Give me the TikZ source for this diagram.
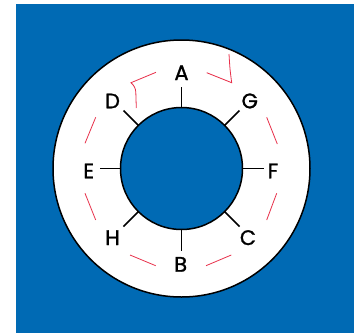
\documentclass[tikz,border=0pt]{standalone}
\usepackage{fontspec}
\setmainfont{Poppins}[FakeBold=1.2]
\definecolor{bgblue}{RGB}{0,106,180}
\definecolor{dashred}{RGB}{232,48,74}
\begin{document}
\begin{tikzpicture}[x=1pt,y=-1pt,
  ring/.style={circle,draw=black,line width=1.5pt,inner sep=0pt,outer sep=0pt},
  tick/.style={draw=black,line width=1.5pt},
  lbl/.style={anchor=base,inner sep=0pt,font=\fontsize{21}{21}\selectfont},
  redline/.style={draw=dashred,line width=0.8pt}]
\useasboundingbox (0,0) rectangle (354,333);
\fill[bgblue] (16,4) rectangle (354,333);
\node[ring,fill=white,minimum size=257pt] (outer) at (181.5,168.5) {};
\node[ring,fill=bgblue,minimum size=122pt] (inner) at (181.5,168.5) {};
% tick ends
\coordinate (tA) at (181.5,86.5);
\coordinate (tB) at (181.5,250.5);
\coordinate (tE) at (99.5,168.5);
\coordinate (tF) at (263.5,168.5);
\coordinate (tD) at (123.5,110.5);
\coordinate (tG) at (239.5,110.5);
\coordinate (tH) at (123.5,226.5);
\coordinate (tC) at (239.5,226.5);
\draw[tick] (inner.90) -- (tA);
\draw[tick] (inner.270) -- (tB);
\draw[tick] (inner.180) -- (tE);
\draw[tick] (inner.0) -- (tF);
\draw[tick] (inner.135) -- (tD);
\draw[tick] (inner.45) -- (tG);
\draw[tick] (inner.225) -- (tH);
\draw[tick] (inner.315) -- (tC);
% labels
\node[lbl] (A) at (181.5,80) {A};
\node[lbl] (D) at (112.5,108.3) {D};
\node[lbl] (G) at (249.8,108.3) {G};
\node[lbl] (E) at (88.7,178.3) {E};
\node[lbl] (F) at (273,178.3) {F};
\node[lbl] (H) at (112.5,245) {H};
\node[lbl] (C) at (248,245) {C};
\node[lbl] (B) at (180.7,271.7) {B};
% red strokes
\draw[redline] (156,72.3) -- (131,82.7) .. controls (134,85.5) and (135.5,88) .. (135.8,92) -- (136.3,108);
\draw[redline] (206.7,72.7) -- (231.7,82.7) .. controls (230,70) .. (229,54);
\draw[redline] (95.7,117.3) -- (85,143.3);
\draw[redline] (85,193.3) -- (95.7,220);
\draw[redline] (130,255) -- (155.7,265.7);
\draw[redline] (206,265.7) -- (231.3,255);
\draw[redline] (276.7,193.3) -- (266.7,220);
\draw[redline] (266.7,117.3) -- (277.3,144);
\end{tikzpicture}
\end{document}
